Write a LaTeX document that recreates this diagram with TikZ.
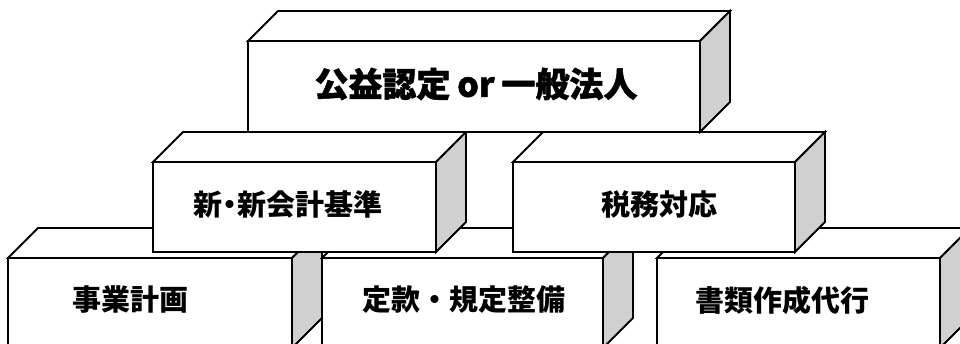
\documentclass[tikz,border=0pt]{standalone}
\usepackage{fontspec}
\newfontfamily\cjk{Noto Sans CJK JP}
\newfontfamily\cjkheavy[BoldFeatures={FakeBold=1.4}]{Noto Sans CJK JP}
\definecolor{sidegray}{RGB}{208,208,208}
\tikzset{
  edge/.style={line width=1.8pt, draw=black, line join=miter},
  front/.style={edge, fill=white, rectangle, inner sep=0pt, outer sep=0pt},
  topface/.style={edge, fill=white},
  sideface/.style={edge, fill=sidegray},
  lbl/.style={font=\cjk\bfseries\fontsize{29}{32}\selectfont, inner sep=0pt},
  biglbl/.style={font=\cjkheavy\bfseries\fontsize{34}{38}\selectfont, inner sep=0pt},
}
\newcommand\cubefaces[1]{%
  \filldraw[topface] (#1.north west) -- ([shift={(30,-30)}]#1.north west)
     -- ([shift={(30,-30)}]#1.north east) -- (#1.north east) -- cycle;
  \filldraw[sideface] (#1.north east) -- ([shift={(30,-30)}]#1.north east)
     -- ([shift={(30,-30)}]#1.south east) -- (#1.south east) -- cycle;
}
\begin{document}
\begin{tikzpicture}[x=1pt,y=-1pt]
  \useasboundingbox (0,0) rectangle (960,343);
  \clip (0,0) rectangle (960,343);
  % bottom row
  \node[front, minimum width=284pt, minimum height=90pt] (bl) at (150,303) {};
  \cubefaces{bl}
  \node[lbl] (blt) at (130,300) {事業計画};
  \node[front, minimum width=281pt, minimum height=90pt] (bm) at (462.5,303) {};
  \cubefaces{bm}
  \node[lbl] (bmt) at (464,300) {定款・規定整備};
  \node[front, minimum width=283pt, minimum height=90pt] (br) at (798.5,303) {};
  \cubefaces{br}
  \node[lbl] (brt) at (782.5,300) {書類作成代行};
  % middle row
  \node[front, minimum width=283pt, minimum height=90pt] (ml) at (294.5,207) {};
  \cubefaces{ml}
  \node[lbl] (mlt) at (288,204) {新{\kern-0.25em}・{\kern-0.25em}新会計基準};
  \node[front, minimum width=282pt, minimum height=90pt] (mr) at (654,207) {};
  \cubefaces{mr}
  \node[lbl] (mrt) at (659.5,204) {税務対応};
  % top
  \node[front, minimum width=452pt, minimum height=91pt] (tp) at (474,86.5) {};
  \cubefaces{tp}
  \node[biglbl] (tpt) at (476,84) {公益認定\kern0.2em or\kern0.2em 一般法人};
\end{tikzpicture}
\end{document}
